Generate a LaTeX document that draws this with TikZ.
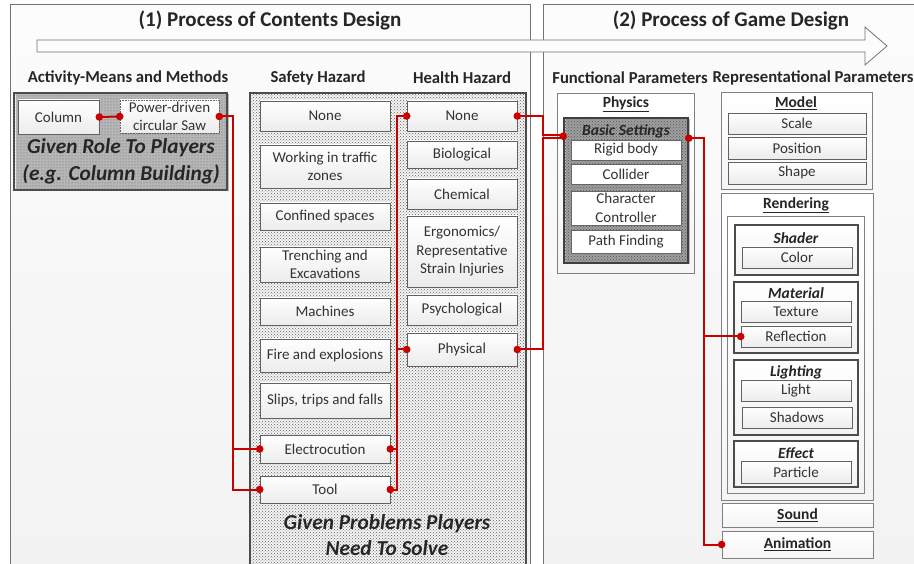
\documentclass[tikz,border=0pt]{standalone}
\usepackage{fontspec}
\setmainfont{Carlito}
\usetikzlibrary{patterns,shadows,fit,calc}
\definecolor{cred}{HTML}{C80000}
\newcommand\mybox[7][box]{\node[#1, fit={(#3,#4) (#5,#6)}] (#2) {};\node[bxt] (#2-t) at (#2.center) {#7};}
\tikzset{
 bxt/.style={font=\fontsize{15}{18.5}\selectfont, text=black!80, align=center, inner sep=0pt},
 box/.style={draw=black!62, line width=0.6pt, top color=white, bottom color=gray!15, inner sep=0pt,
   drop shadow={shadow xshift=1.2pt, shadow yshift=-1.2pt, fill=black!45, opacity=0.6}},
 wbox/.style={draw=black!60, line width=0.6pt, fill=white, inner sep=0pt},
 panel/.style={draw=black!55, line width=0.8pt, top color=gray!2, bottom color=gray!11, inner sep=0pt},
 grp/.style={draw=black!70, line width=1.4pt, inner sep=0pt, top color=white, bottom color=gray!10,
   drop shadow={shadow xshift=1.2pt, shadow yshift=-1.2pt, fill=black!45, opacity=0.6}},
 wgrp/.style={draw=black!50, line width=0.7pt, inner sep=0pt, top color=white, bottom color=gray!8,
   drop shadow={shadow xshift=1pt, shadow yshift=-1pt, fill=black!35, opacity=0.5}},
 dotgrp/.style={draw=black!70, line width=1.4pt, inner sep=0pt, preaction={fill=gray!6}, pattern=dots, pattern color=black!60,
   drop shadow={shadow xshift=1.5pt, shadow yshift=-1.5pt, fill=black!45, opacity=0.6}},
 xdotgrp/.style={draw=black!70, line width=1.4pt, inner sep=0pt, preaction={fill=gray!8}, pattern=crosshatch dots, pattern color=black!62},
 dgrp/.style={draw=black!75, line width=1.6pt, inner sep=0pt, preaction={fill=gray!55}, pattern=crosshatch dots, pattern color=black!65,
   drop shadow={shadow xshift=1.5pt, shadow yshift=-1.5pt, fill=black!45, opacity=0.6}},
 ttl/.style={font=\fontsize{21}{24}\selectfont\bfseries, text=black!85},
 hdr/.style={font=\fontsize{16.7}{19}\selectfont\bfseries, text=black!85},
 given/.style={font=\fontsize{21.3}{24}\selectfont\bfseries\itshape, text=black!85},
 glab/.style={font=\fontsize{15.5}{17}\selectfont\bfseries\itshape, text=black!85},
 ulab/.style={font=\fontsize{15.5}{17}\selectfont\bfseries, text=black!85},
 rline/.style={draw=cred, line width=2pt},
 rdot/.style={fill=cred},
}
\begin{document}
\begin{tikzpicture}[x=1pt,y=-1pt]
\useasboundingbox (0,0) rectangle (914,564);
\clip (0,0) rectangle (914,564);
% panels
\node[panel, fit={(10,4) (530,620)}] (lp) {};
\node[panel, fit={(543,4) (940,620)}] (rp) {};
% arrow
\path[draw=black!55, line width=0.8pt, top color=gray!4, bottom color=white]
  (37,40) -- (865,40) -- (865,27) -- (887,46) -- (865,65) -- (865,52) -- (37,52) -- cycle;
% titles
\node[ttl] (t1) at (270,20) {(1) Process of Contents Design};
\node[ttl] (t2) at (731,20) {(2) Process of Game Design};
\node[hdr] (h1) at (128,78) {Activity-Means and Methods};
\node[hdr] (h2) at (318,78) {Safety Hazard};
\node[hdr] (h3) at (462,78) {Health Hazard};
\node[hdr] (h4) at (630,78) {Functional Parameters};
\node[hdr] (h5) at (813,78) {Representational Parameters};
% activity
\node[dotgrp, fit={(14,93) (227,190)}] (act) {};
\mybox{colm}{18}{100}{99}{134}{Column}
\mybox[box, densely dotted]{saw}{120}{100}{219}{133}{Power-driven\\circular Saw}
\node[given] (g1) at (121,148) {Given Role To Players};
\node[given] (g2) at (121,174) {(e.g. Column Building)};
% hazards
\node[xdotgrp, fit={(250,93) (526,620)}] (haz) {};
\mybox{snone}{260}{101}{390}{131}{None}
\mybox{traf}{260}{145}{390}{188}{Working in traffic\\zones}
\mybox{conf}{260}{203}{390}{230}{Confined spaces}
\mybox{trench}{260}{247}{390}{282}{Trenching and\\Excavations}
\mybox{mach}{260}{298}{390}{325}{Machines}
\mybox{fire}{260}{339}{390}{372}{Fire and explosions}
\mybox{slip}{260}{383}{390}{418}{Slips, trips and falls}
\mybox{elec}{260}{435}{390}{463}{Electrocution}
\mybox{tool}{260}{476}{390}{503}{Tool}
\mybox{hnone}{407}{101}{517}{131}{None}
\mybox{bio}{407}{141}{517}{168}{Biological}
\mybox{chem}{407}{179}{517}{209}{Chemical}
\mybox{ergo}{407}{216}{517}{287}{Ergonomics/\\Representative\\Strain Injuries}
\mybox{psy}{407}{295}{517}{325}{Psychological}
\mybox{phys}{407}{333}{517}{366}{Physical}
\node[given] (g3) at (387,524) {Given Problems Players};
\node[given] (g4) at (387,548) {Need To Solve};
% physics
\node[wgrp, fit={(557,93) (694,273)}] (physics) {};
\node[ulab] (lphys) at (626,104) {\underline{Physics}};
\node[dgrp, fit={(564,118) (688,263)}] (basic) {};
\node[glab] (lbasic) at (626,131) {Basic Settings};
\mybox[wbox]{rigid}{571}{140}{681}{160}{Rigid body}
\mybox[wbox]{coll}{571}{164}{681}{184}{Collider}
\mybox[wbox]{chr}{571}{191}{681}{225}{Character\\Controller}
\mybox[wbox]{pathf}{571}{230}{681}{253}{Path Finding}
% model
\node[wgrp, fit={(721,92) (872,189)}] (model) {};
\node[ulab] (lmodel) at (796,103) {\underline{Model}};
\mybox{scale}{728}{113}{866}{134}{Scale}
\mybox{posn}{728}{137}{866}{159}{Position}
\mybox{shape}{728}{162}{866}{184}{Shape}
% rendering
\node[wgrp, fit={(721,193) (873,500)}] (rend) {};
\node[ulab] (lrend) at (796,205) {\underline{Rendering}};
\node[wgrp, fit={(727,216) (864,493)}] (rendin) {};
\node[grp, fit={(735,225) (858,275)}] (shader) {};
\node[glab] (lshader) at (796,238) {Shader};
\mybox{color}{742}{247}{852}{268}{Color}
\node[grp, fit={(734,282) (858,353)}] (mat) {};
\node[glab] (lmat) at (796,293) {Material};
\mybox{tex}{741}{301}{851}{322}{Texture}
\mybox{refl}{741}{326}{851}{347}{Reflection}
\node[grp, fit={(734,360) (858,435)}] (lighting) {};
\node[glab] (llight) at (796,372) {Lighting};
\mybox{light}{741}{380}{851}{401}{Light}
\mybox{shad}{742}{407}{852}{428}{Shadows}
\node[grp, fit={(734,441) (858,487)}] (eff) {};
\node[glab] (leff) at (796,453) {Effect};
\mybox{part}{741}{461}{851}{483}{Particle}
\node[wgrp, fit={(722,503) (873,527)}] (sound) {};
\node[ulab] (lsound) at (sound.center) {\underline{Sound}};
\node[wgrp, fit={(722,531) (873,558)}] (anim) {};
\node[ulab] (lanim) at (anim.center) {\underline{Animation}};
% connectors
\coordinate (bsin) at ([yshift=-19pt]basic.north west);
\coordinate (bsout) at ([yshift=-21pt]basic.north east);
\draw[rline] (colm.east) -- (saw.west);
\draw[rline] (saw.east) -- ++(14,0) |- (elec.west);
\draw[rline] (saw.east) -- ++(14,0) |- (tool.west);
\draw[rline] (hnone.west) -- ++(-10,0) |- (tool.east);
\draw[rline] (phys.west) -- ++(-10,0);
\draw[rline] (elec.east) -- ++(7,0);
\draw[rline] (hnone.east) -- ++(26,0) |- ([yshift=1.5pt]bsin);
\draw[rline] (phys.east) -- ++(26,0) |- ([yshift=-1.5pt]bsin);
\draw[rline] (bsout) -- ++(15,0) |- (anim.west);
\draw[rline] (bsout) -- ++(15,0) |- (refl.west);
\foreach \p in {colm.east,saw.west,saw.east,elec.west,tool.west,elec.east,tool.east,hnone.west,phys.west,hnone.east,phys.east,bsin,bsout,refl.west,anim.west}
  \fill[rdot] (\p) circle (3.8);
\end{tikzpicture}
\end{document}
